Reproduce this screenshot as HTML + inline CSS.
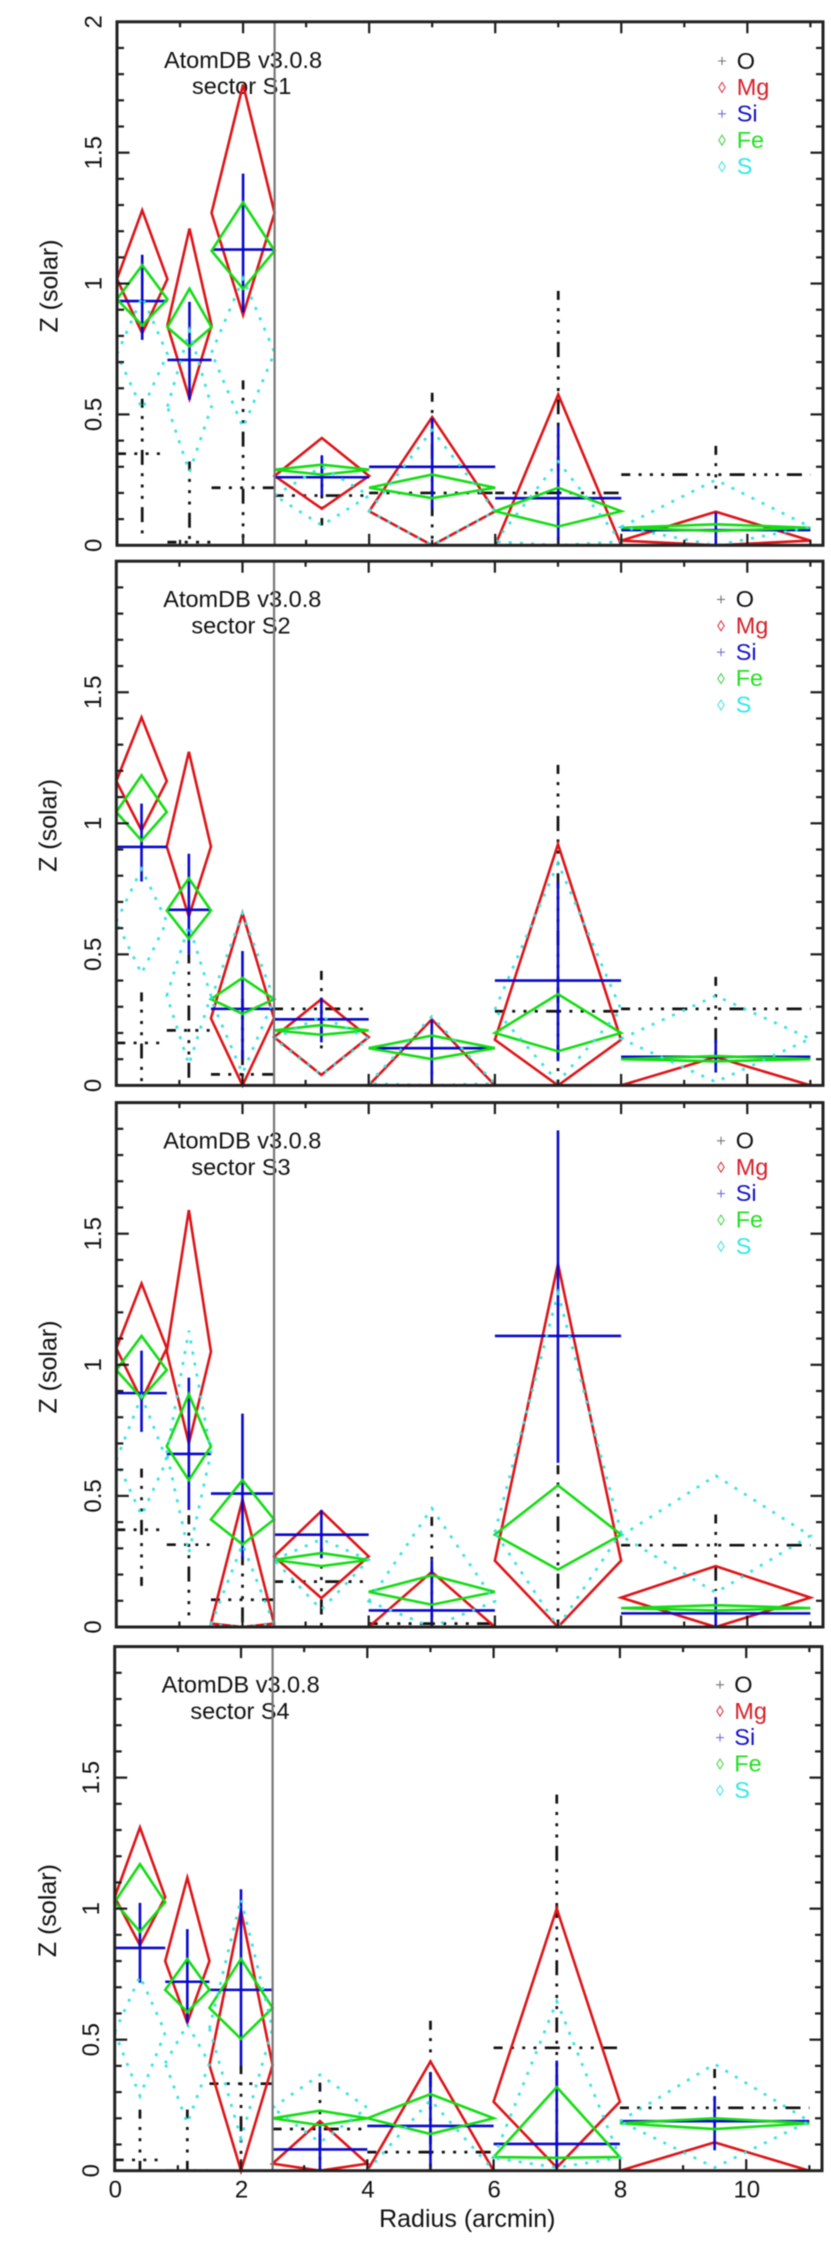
<!DOCTYPE html>
<html lang="en">
<head>
<meta charset="utf-8">
<title>Metal abundance profiles by sector</title>
<style>
html,body{margin:0;padding:0;background:#fff;}
#chart{display:block;width:831px;height:2246px;filter:blur(0.4px);}
text{font-family:"Liberation Sans",sans-serif;fill:#111;}
</style>
</head>
<body>
<svg id="chart" xmlns="http://www.w3.org/2000/svg" width="831" height="2246" viewBox="0 0 831 2246">
  <rect x="0" y="0" width="831" height="2246" fill="#fff"/>

  <!-- Sector S1 text -->
  <g>
    <text font-size="25" text-anchor="middle" transform="translate(57.3,286) rotate(-90)">Z (solar)</text>
    <text font-size="23.5" text-anchor="middle" x="243" y="67.8">AtomDB v3.0.8</text>
    <text font-size="23.5" text-anchor="middle" x="241.7" y="94">sector S1</text>
    <g>
      <g><path d="M718 61h8M722 57v8" stroke="#777" stroke-width="1.1" fill="none"/><text font-size="23.5" x="736.7" y="68.8" style="fill:#111">O</text></g>
      <g><path d="M722 82.4l3.2 5l-3.2 5l-3.2-5z" stroke="#d8303a" stroke-width="1" fill="none"/><text font-size="23.5" x="736.7" y="95" style="fill:#d6202a">Mg</text></g>
      <g><path d="M718 113.8h8M722 109.8v8" stroke="#7070e0" stroke-width="1.1" fill="none"/><text font-size="23.5" x="736.7" y="121.4" style="fill:#1212c4">Si</text></g>
      <g><path d="M722 135.2l3.2 5l-3.2 5l-3.2-5z" stroke="#40d040" stroke-width="1" fill="none"/><text font-size="23.5" x="736.7" y="147.8" style="fill:#22e022">Fe</text></g>
      <g><path d="M722 161.6l3.2 5l-3.2 5l-3.2-5z" stroke="#40e0e0" stroke-width="1" fill="none"/><text font-size="23.5" x="736.7" y="174.2" style="fill:#30e8e8">S</text></g>
    </g>
  </g>

  <!-- Sector S2 text -->
  <g>
    <text font-size="25" text-anchor="middle" transform="translate(56.5,825.4) rotate(-90)">Z (solar)</text>
    <text font-size="23.5" text-anchor="middle" x="242.3" y="607.2">AtomDB v3.0.8</text>
    <text font-size="23.5" text-anchor="middle" x="241" y="633.4">sector S2</text>
    <g>
      <g><path d="M717 599.4h8M721 595.4v8" stroke="#777" stroke-width="1.1" fill="none"/><text font-size="23.5" x="735.7" y="607.2" style="fill:#111">O</text></g>
      <g><path d="M721 620.8l3.2 5l-3.2 5l-3.2-5z" stroke="#d8303a" stroke-width="1" fill="none"/><text font-size="23.5" x="735.7" y="633.4" style="fill:#d6202a">Mg</text></g>
      <g><path d="M717 652.2h8M721 648.2v8" stroke="#7070e0" stroke-width="1.1" fill="none"/><text font-size="23.5" x="735.7" y="659.8" style="fill:#1212c4">Si</text></g>
      <g><path d="M721 673.6l3.2 5l-3.2 5l-3.2-5z" stroke="#40d040" stroke-width="1" fill="none"/><text font-size="23.5" x="735.7" y="686.2" style="fill:#22e022">Fe</text></g>
      <g><path d="M721 700l3.2 5l-3.2 5l-3.2-5z" stroke="#40e0e0" stroke-width="1" fill="none"/><text font-size="23.5" x="735.7" y="712.6" style="fill:#30e8e8">S</text></g>
    </g>
  </g>

  <!-- Sector S3 text -->
  <g>
    <text font-size="25" text-anchor="middle" transform="translate(56.5,1367) rotate(-90)">Z (solar)</text>
    <text font-size="23.5" text-anchor="middle" x="242.3" y="1148.6">AtomDB v3.0.8</text>
    <text font-size="23.5" text-anchor="middle" x="241" y="1174.8">sector S3</text>
    <g>
      <g><path d="M717 1140.8h8M721 1136.8v8" stroke="#777" stroke-width="1.1" fill="none"/><text font-size="23.5" x="735.7" y="1148.6" style="fill:#111">O</text></g>
      <g><path d="M721 1162.2l3.2 5l-3.2 5l-3.2-5z" stroke="#d8303a" stroke-width="1" fill="none"/><text font-size="23.5" x="735.7" y="1174.8" style="fill:#d6202a">Mg</text></g>
      <g><path d="M717 1193.6h8M721 1189.6v8" stroke="#7070e0" stroke-width="1.1" fill="none"/><text font-size="23.5" x="735.7" y="1201.2" style="fill:#1212c4">Si</text></g>
      <g><path d="M721 1215l3.2 5l-3.2 5l-3.2-5z" stroke="#40d040" stroke-width="1" fill="none"/><text font-size="23.5" x="735.7" y="1227.6" style="fill:#22e022">Fe</text></g>
      <g><path d="M721 1241.4l3.2 5l-3.2 5l-3.2-5z" stroke="#40e0e0" stroke-width="1" fill="none"/><text font-size="23.5" x="735.7" y="1254" style="fill:#30e8e8">S</text></g>
    </g>
  </g>

  <!-- Sector S4 text -->
  <g>
    <text font-size="25" text-anchor="middle" transform="translate(56,1910.6) rotate(-90)">Z (solar)</text>
    <text font-size="23.5" text-anchor="middle" x="240.7" y="1692.6">AtomDB v3.0.8</text>
    <text font-size="23.5" text-anchor="middle" x="240" y="1718.8">sector S4</text>
    <g>
      <g><path d="M716 1684.8h8M720 1680.8v8" stroke="#777" stroke-width="1.1" fill="none"/><text font-size="23.5" x="734.3" y="1692.6" style="fill:#111">O</text></g>
      <g><path d="M720 1706.2l3.2 5l-3.2 5l-3.2-5z" stroke="#d8303a" stroke-width="1" fill="none"/><text font-size="23.5" x="734.3" y="1718.8" style="fill:#d6202a">Mg</text></g>
      <g><path d="M716 1737.6h8M720 1733.6v8" stroke="#7070e0" stroke-width="1.1" fill="none"/><text font-size="23.5" x="734.3" y="1745.2" style="fill:#1212c4">Si</text></g>
      <g><path d="M720 1759l3.2 5l-3.2 5l-3.2-5z" stroke="#40d040" stroke-width="1" fill="none"/><text font-size="23.5" x="734.3" y="1771.6" style="fill:#22e022">Fe</text></g>
      <g><path d="M720 1785.4l3.2 5l-3.2 5l-3.2-5z" stroke="#40e0e0" stroke-width="1" fill="none"/><text font-size="23.5" x="734.3" y="1798" style="fill:#30e8e8">S</text></g>
    </g>
    <text font-size="25" text-anchor="middle" x="467.3" y="2227">Radius (arcmin)</text>
  </g>
</svg>

<script>
// Radial bins (arcmin)
const binLow = [0, 0.8, 1.5, 2.5, 4, 6, 8];
const binCenter = [0.4, 1.15, 2, 3.25, 5, 7, 9.5];
const binHigh = [0.8, 1.5, 2.5, 4, 6, 8, 11];

// Axis ticks
const xMajorTicks = [0, 2, 4, 6, 8, 10];
const xMinorTicks = [1, 3, 5, 7, 9, 11];
const xTickLabels = ['0', '2', '4', '6', '8', '10'];
const yMajorTicks = [0, 0.5, 1, 1.5];
const yMinorTicks = [0.1, 0.2, 0.3, 0.4, 0.6, 0.7, 0.8, 0.9, 1.1, 1.2, 1.3, 1.4, 1.6, 1.7, 1.8, 1.9];
const yTickLabels = ['0', '0.5', '1', '1.5'];
const boundaryRadius = [2.5];

// Sector S1
const s1OLo = [0.03, 0, 0, 0.076, 0, 0, 0.215];
const s1OMid = [0.35, 0.012, 0.22, 0.19, 0.2, 0.2, 0.27];
const s1OHi = [0.56, 0.32, 0.63, 0.3, 0.583, 0.972, 0.38];
const s1MgLo = [0.81, 0.56, 0.88, 0.14, 0, 0, 0];
const s1MgMid = [1.017, 0.84, 1.27, 0.265, 0.13, 0, 0.018];
const s1MgHi = [1.28, 1.21, 1.76, 0.41, 0.49, 0.576, 0.128];
const s1SiLo = [0.785, 0.556, 0.89, 0.19, 0.14, 0, 0];
const s1SiMid = [0.933, 0.708, 1.13, 0.26, 0.3, 0.18, 0.058];
const s1SiHi = [1.11, 0.93, 1.42, 0.344, 0.486, 0.458, 0.125];
const s1FeLo = [0.84, 0.76, 0.98, 0.27, 0.18, 0.072, 0.055];
const s1FeMid = [0.94, 0.833, 1.125, 0.289, 0.22, 0.13, 0.067];
const s1FeHi = [1.07, 0.98, 1.31, 0.308, 0.27, 0.22, 0.08];
const s1SLo = [0.52, 0.28, 0.45, 0.076, 0, 0, 0];
const s1SMid = [0.73, 0.53, 0.736, 0.19, 0.13, 0.014, 0.07];
const s1SHi = [0.95, 0.82, 1.02, 0.3, 0.44, 0.32, 0.25];

// Sector S2
const s2OLo = [0, 0, 0, 0.13, 0, 0, 0.05];
const s2OMid = [0.162, 0.21, 0.042, 0.292, 0, 0.283, 0.292];
const s2OHi = [0.355, 0.5, 0.33, 0.437, 0.12, 1.223, 0.414];
const s2MgLo = [0.973, 0.644, 0, 0.04, 0, 0, 0];
const s2MgMid = [1.161, 0.911, 0.256, 0.184, 0, 0.174, 0];
const s2MgHi = [1.404, 1.273, 0.657, 0.329, 0.252, 0.92, 0.108];
const s2SiLo = [0.778, 0.5, 0.1, 0.164, 0, 0.092, 0.049];
const s2SiMid = [0.91, 0.67, 0.292, 0.252, 0.142, 0.4, 0.109];
const s2SiHi = [1.075, 0.884, 0.513, 0.335, 0.25, 0.776, 0.174];
const s2FeLo = [0.934, 0.56, 0.273, 0.193, 0.1, 0.13, 0.092];
const s2FeMid = [1.043, 0.667, 0.329, 0.21, 0.142, 0.2, 0.1];
const s2FeHi = [1.183, 0.79, 0.41, 0.23, 0.19, 0.348, 0.112];
const s2SLo = [0.427, 0.08, 0.046, 0.04, 0, 0.013, 0.013];
const s2SMid = [0.625, 0.342, 0.329, 0.178, 0.007, 0.289, 0.178];
const s2SHi = [0.826, 0.611, 0.657, 0.263, 0.263, 0.848, 0.342];

// Sector S3
const s3OLo = [0.157, 0.02, 0, 0, 0, 0, 0.138];
const s3OMid = [0.371, 0.314, 0.104, 0.173, 0.013, 0, 0.312];
const s3OHi = [0.604, 0.426, 0.27, 0.3, 0.42, 0.617, 0.429];
const s3MgLo = [0.866, 0.7, 0, 0.11, 0, 0, 0];
const s3MgMid = [1.063, 1.05, 0.013, 0.269, 0, 0.253, 0.112];
const s3MgHi = [1.31, 1.59, 0.486, 0.442, 0.21, 1.385, 0.232];
const s3SiLo = [0.744, 0.446, 0.262, 0.262, 0, 0.626, 0];
const s3SiMid = [0.892, 0.66, 0.509, 0.352, 0.063, 1.11, 0.052];
const s3SiHi = [1.054, 0.951, 0.814, 0.446, 0.256, 1.894, 0.114];
const s3FeLo = [0.873, 0.56, 0.315, 0.232, 0.085, 0.219, 0.063];
const s3FeMid = [0.98, 0.689, 0.41, 0.256, 0.134, 0.352, 0.072];
const s3FeHi = [1.11, 0.888, 0.56, 0.282, 0.197, 0.54, 0.083];
const s3SLo = [0.426, 0.282, 0, 0.066, 0, 0, 0.131];
const s3SMid = [0.636, 0.663, 0.01, 0.256, 0.098, 0.361, 0.348];
const s3SHi = [0.88, 1.13, 0.315, 0.335, 0.453, 1.273, 0.577];

// Sector S4
const s4OLo = [0, 0, 0, 0, 0, 0, 0.18];
const s4OMid = [0.041, 0, 0.332, 0.159, 0.071, 0.469, 0.24];
const s4OHi = [0.233, 0.233, 0.403, 0.336, 0.572, 1.435, 0.388];
const s4MgLo = [0.86, 0.565, 0, 0, 0, 0.012, 0];
const s4MgMid = [1.044, 0.8, 0.403, 0.027, 0, 0.263, 0];
const s4MgHi = [1.31, 1.118, 0.993, 0.189, 0.417, 1, 0.108];
const s4SiLo = [0.717, 0.565, 0.403, 0, 0, 0, 0.078];
const s4SiMid = [0.85, 0.721, 0.69, 0.081, 0.171, 0.102, 0.189];
const s4SiHi = [1.022, 0.922, 1.074, 0.181, 0.373, 0.42, 0.285];
const s4FeLo = [0.912, 0.606, 0.503, 0.174, 0.14, 0.049, 0.159];
const s4FeMid = [1.025, 0.69, 0.621, 0.2, 0.2, 0.052, 0.181];
const s4FeHi = [1.17, 0.808, 0.808, 0.229, 0.292, 0.319, 0.2];
const s4SLo = [0.285, 0.181, 0.122, 0.108, 0, 0.012, 0.012];
const s4SMid = [0.528, 0.41, 0.543, 0.24, 0, 0.049, 0.189];
const s4SHi = [0.742, 0.558, 1.037, 0.366, 0.27, 0.646, 0.407];

const svg = document.getElementById('chart');
const NS = 'http://www.w3.org/2000/svg';

function mk(tag, parent, attrs) {
  const el = document.createElementNS(NS, tag);
  for (const k in attrs) el.setAttribute(k, attrs[k]);
  parent.appendChild(el);
  return el;
}

const X_MAX = 11.2;
const Y_MAX = 2;

const sectorList = [
  { id: 's1', left: 117, right: 823, top: 21.8, bottom: 545.3, topLabel: '2',
    O: [s1OLo, s1OMid, s1OHi], Mg: [s1MgLo, s1MgMid, s1MgHi], Si: [s1SiLo, s1SiMid, s1SiHi], Fe: [s1FeLo, s1FeMid, s1FeHi], S: [s1SLo, s1SMid, s1SHi] },
  { id: 's2', left: 116.3, right: 823, top: 561.2, bottom: 1085.4, topLabel: '',
    O: [s2OLo, s2OMid, s2OHi], Mg: [s2MgLo, s2MgMid, s2MgHi], Si: [s2SiLo, s2SiMid, s2SiHi], Fe: [s2FeLo, s2FeMid, s2FeHi], S: [s2SLo, s2SMid, s2SHi] },
  { id: 's3', left: 116.3, right: 823, top: 1102.6, bottom: 1627, topLabel: '',
    O: [s3OLo, s3OMid, s3OHi], Mg: [s3MgLo, s3MgMid, s3MgHi], Si: [s3SiLo, s3SiMid, s3SiHi], Fe: [s3FeLo, s3FeMid, s3FeHi], S: [s3SLo, s3SMid, s3SHi] },
  { id: 's4', left: 114.7, right: 822, top: 1646.6, bottom: 2170.7, topLabel: '',
    O: [s4OLo, s4OMid, s4OHi], Mg: [s4MgLo, s4MgMid, s4MgHi], Si: [s4SiLo, s4SiMid, s4SiHi], Fe: [s4FeLo, s4FeMid, s4FeHi], S: [s4SLo, s4SMid, s4SHi] }
];

const COLORS = { O: '#111111', Mg: '#dd1418', Si: '#0808cc', Fe: '#14dc14', S: '#38e2e2' };
const DASH_O = '15 8.3 3 8.3 3 8.3 3 8.3';
const DASH_S = '3 8.2';

function drawCross(group, sector, key, xAxis, yAxis) {
  const values = sector[key];
  const prefix = sector.id + '-' + key.toLowerCase();
  const dashed = key === 'O';
  binCenter.forEach(function (center, i) {
    const style = { stroke: COLORS[key], 'stroke-width': dashed ? 2.7 : 2.6, fill: 'none' };
    if (dashed) {
      style['stroke-dasharray'] = DASH_O;
      style['stroke-dashoffset'] = 6;
    }
    const h = mk('line', group, Object.assign({
      x1: xAxis(binLow[i]), x2: xAxis(binHigh[i]), y1: yAxis(values[1][i]), y2: yAxis(values[1][i])
    }, style));
    
    
    const v = mk('line', group, Object.assign({
      x1: xAxis(center), x2: xAxis(center), y1: yAxis(values[2][i]), y2: yAxis(values[0][i])
    }, style));
    
    
  });
}

function drawDiamond(group, sector, key, xAxis, yAxis) {
  const values = sector[key];
  const prefix = sector.id + '-' + key.toLowerCase();
  binCenter.forEach(function (center, i) {
    const d = 'M' + xAxis(binLow[i]) + ' ' + yAxis(values[1][i]) +
      'L' + xAxis(center) + ' ' + yAxis(values[2][i]) +
      'L' + xAxis(binHigh[i]) + ' ' + yAxis(values[1][i]) +
      'L' + xAxis(center) + ' ' + yAxis(values[0][i]) + 'Z';
    const attrs = { d: d, fill: 'none', stroke: COLORS[key], 'stroke-width': key === 'S' ? 2.7 : 2.6, 'stroke-linejoin': 'miter' };
    if (key === 'S') attrs['stroke-dasharray'] = DASH_S;
    const shape = mk('path', group, attrs);
    
    
  });
}

sectorList.forEach(function (sector, panelIndex) {
  const xAxis = function (v) { return sector.left + v * (sector.right - sector.left) / X_MAX; };
  const yAxis = function (v) { return sector.bottom - v * (sector.bottom - sector.top) / Y_MAX; };
  const height = sector.bottom - sector.top;

  const panel = mk('g', svg, {});
  
  

  // series, in legend order
  const order = ['O', 'Mg', 'Si', 'Fe', 'S'];
  order.forEach(function (key) {
    const group = mk('g', panel, {});
    
    
    if (key === 'O' || key === 'Si') drawCross(group, sector, key, xAxis, yAxis);
    else drawDiamond(group, sector, key, xAxis, yAxis);
  });

  // boundary marker
  boundaryRadius.forEach(function (r) {
    const marker = mk('line', panel, { x1: xAxis(r), x2: xAxis(r), y1: sector.top, y2: sector.bottom, stroke: '#777', 'stroke-width': 2.2 });
    
    
  });

  // ticks
  const ticks = mk('g', panel, { stroke: '#1c1c1c', 'stroke-width': 2.2 });
  
  

  function xTick(v, len, kind) {
    const x = xAxis(v);
    const b = mk('line', ticks, { x1: x, x2: x, y1: sector.bottom, y2: sector.bottom - len });
    
    
    const t = mk('line', ticks, { x1: x, x2: x, y1: sector.top, y2: sector.top + len });
    
    
  }
  function yTick(v, len, kind) {
    const y = yAxis(v);
    const l = mk('line', ticks, { x1: sector.left, x2: sector.left + len, y1: y, y2: y });
    
    
    const r = mk('line', ticks, { x1: sector.right, x2: sector.right - len, y1: y, y2: y });
    
    
  }
  xMajorTicks.forEach(function (v) { xTick(v, 11.5, 'major'); });
  xMinorTicks.forEach(function (v) { xTick(v, 5.5, 'minor'); });
  yMajorTicks.forEach(function (v) { yTick(v, 12.5, 'major'); });
  yMinorTicks.forEach(function (v) { yTick(v, 7, 'minor'); });

  // frame
  const frame = mk('rect', panel, {
    x: sector.left, y: sector.top, width: sector.right - sector.left, height: height,
    fill: 'none', stroke: '#222', 'stroke-width': 3
  });
  
  

  // y tick labels
  const tickEm = 24;
  const baseX = sector.left - 15.5;
  yMajorTicks.forEach(function (v, i) {
    const label = mk('text', panel, {
      'font-size': tickEm, 'text-anchor': 'middle',
      transform: 'translate(' + baseX + ',' + yAxis(v) + ') rotate(-90)'
    });
    label.textContent = yTickLabels[i];
    
    
  });
  if (sector.topLabel) {
    const topLabel = mk('text', panel, {
      'font-size': tickEm, 'text-anchor': 'middle',
      transform: 'translate(' + baseX + ',' + yAxis(Y_MAX) + ') rotate(-90)'
    });
    topLabel.textContent = sector.topLabel;
    
    
  }

  // x tick labels only on the bottom panel
  if (panelIndex === sectorList.length - 1) {
    xMajorTicks.forEach(function (v, i) {
      const label = mk('text', panel, {
        'font-size': tickEm, 'text-anchor': 'middle',
        x: xAxis(v) + 0.6, y: 2197.3
      });
      label.textContent = xTickLabels[i];
      
      
    });
  }
});
</script>
</body>
</html>
